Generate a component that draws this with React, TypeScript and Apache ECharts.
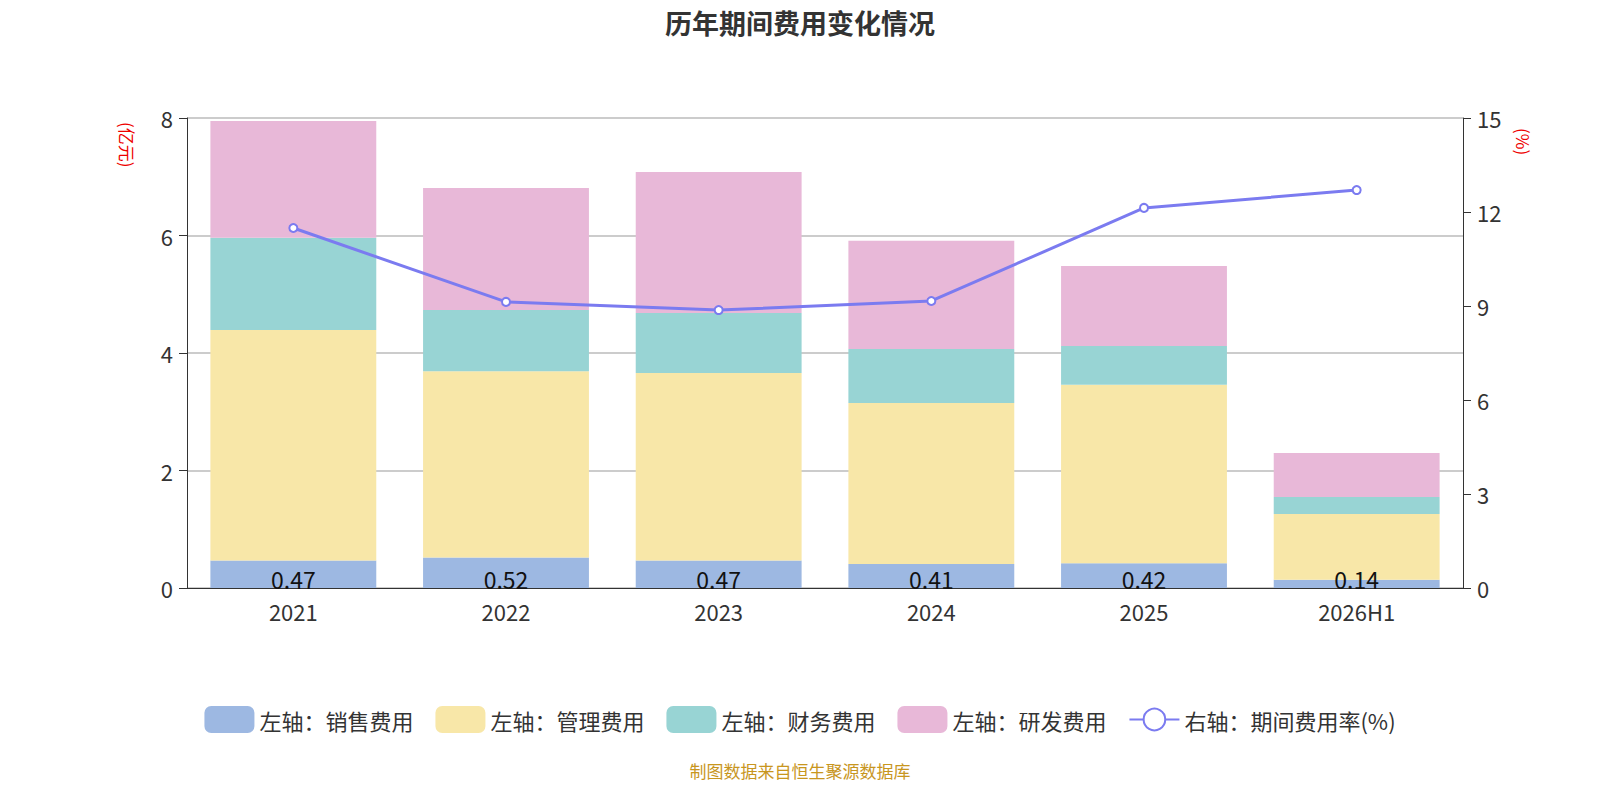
import { useEffect, useRef } from "react";
import * as echarts from "echarts";

const years = ["2021", "2022", "2023", "2024", "2025", "2026H1"];
const sales = [0.47, 0.52, 0.47, 0.41, 0.42, 0.14];
const admin = [3.92, 3.17, 3.19, 2.74, 3.04, 1.12];
const finance = [1.57, 1.04, 1.02, 0.92, 0.66, 0.29];
const rnd = [1.99, 2.08, 2.4, 1.84, 1.36, 0.75];
const rate = [11.49, 9.13, 8.87, 9.16, 12.13, 12.7];

const font = "'Noto Sans CJK SC', 'Noto Sans', sans-serif";

export default function App() {
  const ref = useRef<HTMLDivElement>(null);

  useEffect(() => {
    document.body.style.margin = "0";
    if (!ref.current) return;
    const chart = echarts.init(ref.current, null, { renderer: "svg" });
    const bar = (name: string, data: number[], color: string, label = false) => ({
      name,
      type: "bar",
      stack: "cost",
      barWidth: "78%",
      data,
      itemStyle: { color },
      label: label
        ? { show: true, position: "insideBottom", color: "#111", fontSize: 23, distance: -2 }
        : { show: false },
    });
    chart.setOption({
      animation: false,
      textStyle: { fontFamily: font },
      title: {
        text: "历年期间费用变化情况",
        left: "center",
        top: 4,
        textStyle: { fontSize: 27, fontWeight: "bold", color: "#333", fontFamily: font },
      },
      grid: { left: 187, right: 137, top: 118, bottom: 212 },
      legend: {
        bottom: 62,
        itemWidth: 50,
        itemHeight: 27,
        itemGap: 22,
        textStyle: { fontSize: 22, color: "#333" },
        data: [
          { name: "左轴：销售费用", icon: "roundRect" },
          { name: "左轴：管理费用", icon: "roundRect" },
          { name: "左轴：财务费用", icon: "roundRect" },
          { name: "左轴：研发费用", icon: "roundRect" },
          { name: "右轴：期间费用率(%)" },
        ],
      },
      xAxis: {
        type: "category",
        data: years,
        axisLine: { lineStyle: { color: "#333" } },
        axisTick: { length: 8, lineStyle: { color: "#333" } },
        axisLabel: { fontSize: 22, color: "#333", margin: 12 },
      },
      yAxis: [
        {
          type: "value",
          min: 0,
          max: 8,
          interval: 2,
          axisLine: { show: true, lineStyle: { color: "#333" } },
          axisTick: { show: true, length: 8 },
          axisLabel: { fontSize: 22, color: "#333", margin: 14 },
          splitLine: { lineStyle: { color: "#bbb", width: 1.5 } },
        },
        {
          type: "value",
          min: 0,
          max: 15,
          interval: 3,
          axisLine: { show: true, lineStyle: { color: "#333" } },
          axisTick: { show: true, length: 8 },
          axisLabel: { fontSize: 22, color: "#333", margin: 14 },
          splitLine: { show: false },
        },
      ],
      series: [
        bar("左轴：销售费用", sales, "#9db8e2", true),
        bar("左轴：管理费用", admin, "#f8e7a8"),
        bar("左轴：财务费用", finance, "#98d4d4"),
        bar("左轴：研发费用", rnd, "#e8b8d8"),
        {
          name: "右轴：期间费用率(%)",
          type: "line",
          yAxisIndex: 1,
          data: rate,
          symbol: "circle",
          symbolSize: 8,
          lineStyle: { color: "#7b7bf0", width: 3 },
          itemStyle: { color: "#fff", borderColor: "#7b7bf0", borderWidth: 2 },
        },
      ],
      graphic: [
        {
          type: "text",
          x: 136,
          y: 122,
          rotation: -Math.PI / 2,
          style: { text: "(亿元)", fill: "#e00", fontSize: 17, fontFamily: font },
        },
        {
          type: "text",
          x: 1532,
          y: 128,
          rotation: -Math.PI / 2,
          style: { text: "(%)", fill: "#e00", fontSize: 17, fontFamily: font },
        },
        {
          type: "text",
          left: "center",
          top: 762,
          style: { text: "制图数据来自恒生聚源数据库", fill: "#c8961e", fontSize: 17, fontFamily: font },
        },
      ],
    });
    return () => chart.dispose();
  }, []);

  return <div ref={ref} style={{ width: 1600, height: 800 }} />;
}
